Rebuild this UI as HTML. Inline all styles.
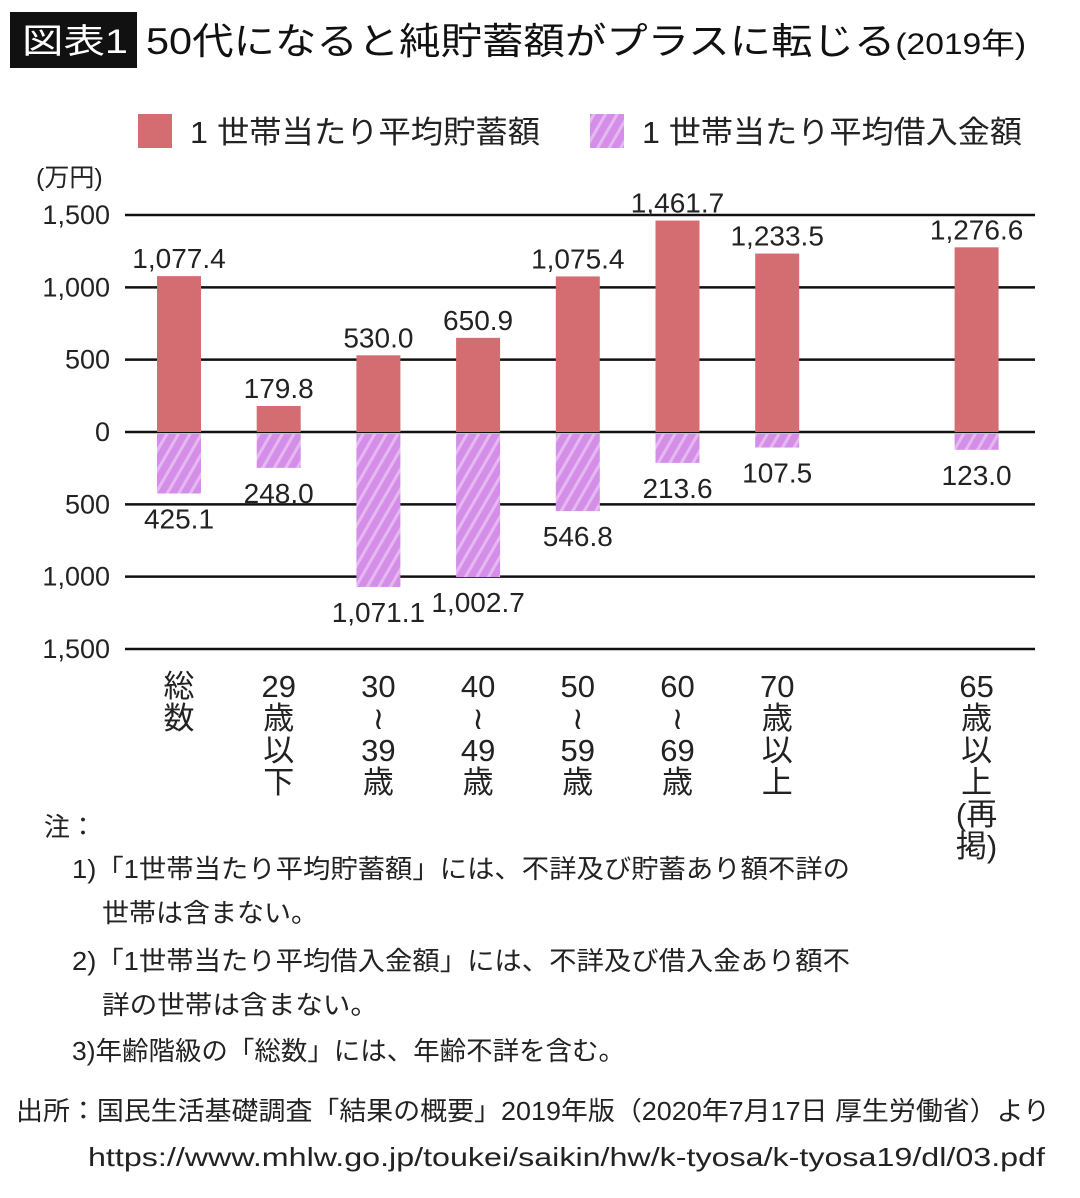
<!DOCTYPE html>
<html><head><meta charset="utf-8"><style>
body{margin:0;background:#fff;}
svg{display:block;font-family:"Liberation Sans","Noto Sans CJK JP",sans-serif;}
</style></head><body>
<svg width="1080" height="1198" viewBox="0 0 1080 1198">
<defs>
<pattern id="hatch" width="10" height="10" patternUnits="userSpaceOnUse" patternTransform="rotate(30)">
<rect width="10" height="10" fill="#d48ee8"/>
<rect width="3" height="10" fill="#e6b8f2"/>
</pattern>
</defs>
<rect x="10" y="12" width="127" height="56" fill="#111"/>
<text x="22" y="53" font-size="34" fill="#fff" textLength="106" lengthAdjust="spacingAndGlyphs">図表1</text>
<text x="146" y="54" font-size="37" fill="#111" textLength="880" lengthAdjust="spacingAndGlyphs">50代になると純貯蓄額がプラスに転じる<tspan font-size="30">(2019年)</tspan></text>
<rect x="138" y="114" width="34" height="34" fill="#d46d72"/>
<text x="190" y="143" font-size="31" fill="#222" textLength="350" lengthAdjust="spacingAndGlyphs">1 世帯当たり平均貯蓄額</text>
<rect x="590" y="114" width="34" height="34" fill="url(#hatch)"/>
<text x="642" y="143" font-size="31" fill="#222" textLength="380" lengthAdjust="spacingAndGlyphs">1 世帯当たり平均借入金額</text>
<text x="36" y="186" font-size="25" fill="#222">(万円)</text>
<g id="grid"></g><g id="bars"></g><g id="labels"></g>
<g font-size="26" fill="#222">
<text x="44" y="836">注：</text>
<text x="72" y="878" textLength="778" lengthAdjust="spacingAndGlyphs">1)「1世帯当たり平均貯蓄額」には、不詳及び貯蓄あり額不詳の</text>
<text x="102" y="922" textLength="216" lengthAdjust="spacingAndGlyphs">世帯は含まない。</text>
<text x="72" y="970" textLength="778" lengthAdjust="spacingAndGlyphs">2)「1世帯当たり平均借入金額」には、不詳及び借入金あり額不</text>
<text x="102" y="1014" textLength="276" lengthAdjust="spacingAndGlyphs">詳の世帯は含まない。</text>
<text x="72" y="1060" textLength="553" lengthAdjust="spacingAndGlyphs">3)年齢階級の「総数」には、年齢不詳を含む。</text>
<text x="16" y="1120" textLength="1034" lengthAdjust="spacingAndGlyphs">出所：国民生活基礎調査「結果の概要」2019年版（2020年7月17日 厚生労働省）より</text>
<text x="88" y="1166" textLength="957" lengthAdjust="spacingAndGlyphs">https://www.mhlw.go.jp/toukei/saikin/hw/k-tyosa/k-tyosa19/dl/03.pdf</text>
</g>
</svg>
<script>
const categories=[["総","数"],["29","歳","以","下"],["30","≀","39","歳"],["40","≀","49","歳"],["50","≀","59","歳"],["60","≀","69","歳"],["70","歳","以","上"],["65","歳","以","上","(再","掲)"]];
const savings=[1077.4,179.8,530.0,650.9,1075.4,1461.7,1233.5,1276.6];
const debt=[425.1,248.0,1071.1,1002.7,546.8,213.6,107.5,123.0];
const ticks=[1500,1000,500,0,-500,-1000,-1500];
const tickLabels=["1,500","1,000","500","0","500","1,000","1,500"];
const slots=[0,1,2,3,4,5,6,8];
const NS="http://www.w3.org/2000/svg";
const y0=432,scale=217/1500;
const y=v=>y0-v*scale;
const xc=i=>179+slots[i]*99.7;
const fmt=v=>v.toLocaleString("en-US",{minimumFractionDigits:1,maximumFractionDigits:1});
function mk(tag,attrs,parent){const e=document.createElementNS(NS,tag);for(const k in attrs)e.setAttribute(k,attrs[k]);document.getElementById(parent).appendChild(e);return e;}
ticks.forEach((t,i)=>{
 const l=mk("line",{x1:125,x2:1035,y1:y(t),y2:y(t),stroke:"#111","stroke-width":2.5},"grid");
 
 
 const tx=mk("text",{x:110,y:y(t)+9,"text-anchor":"end","font-size":27,fill:"#222"},"grid");
 tx.textContent=tickLabels[i];
 
 
});
savings.forEach((v,i)=>{
 const b=mk("rect",{x:xc(i)-22,y:y(v),width:44,height:y(0)-y(v),fill:"#d46d72"},"bars");
 
 
 const t=mk("text",{x:xc(i),y:y(v)-8,"text-anchor":"middle","font-size":28,fill:"#222"},"labels");
 t.textContent=fmt(v);
 
 
});
debt.forEach((v,i)=>{
 const b=mk("rect",{x:xc(i)-22,y:y(0)+2,width:44,height:y(-v)-y(0)-2,fill:"url(#hatch)"},"bars");
 
 
 const t=mk("text",{x:xc(i),y:y(-v)+35,"text-anchor":"middle","font-size":28,fill:"#222"},"labels");
 t.textContent=fmt(v);
 
 
});
categories.forEach((c,i)=>{
 c.forEach((s,j)=>{
  const t=mk("text",{x:xc(i),y:697+j*32,"text-anchor":"middle","font-size":31,fill:"#222"},"labels");
  t.textContent=s;
  
  
 });
});
</script>
</body></html>
